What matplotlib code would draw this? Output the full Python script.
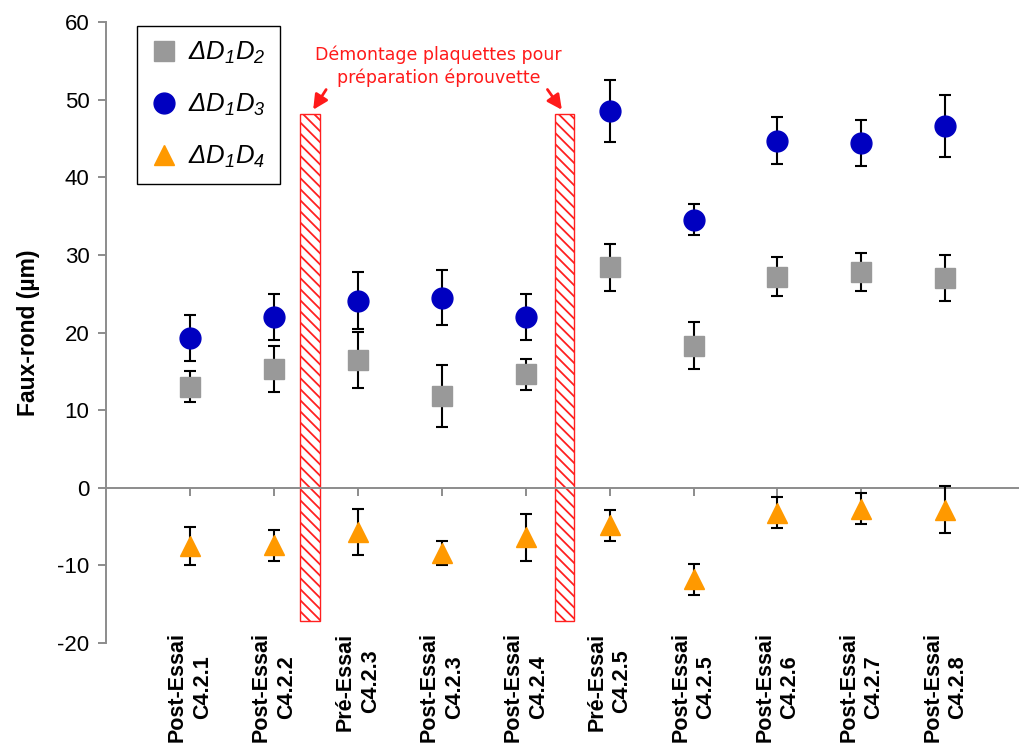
"""
Faux-rond measurements per test step, with the two plate-removal gaps
marked as hatched bars.
"""
import numpy as np
import matplotlib

matplotlib.use("Agg")
import matplotlib.pyplot as plt
from matplotlib.transforms import blended_transform_factory

plt.rcParams["font.family"] = ["Liberation Sans", "DejaVu Sans"]
# only the legend uses mathtext, and it is fully italic there
plt.rcParams["mathtext.fontset"] = "custom"
plt.rcParams["mathtext.it"] = "Liberation Sans:italic"
plt.rcParams["mathtext.rm"] = "Liberation Sans:italic"
plt.rcParams["axes.unicode_minus"] = False
plt.rcParams["hatch.linewidth"] = 1.3

# --- data -----------------------------------------------------------------
categories = [
    "Post-Essai\nC4.2.1", "Post-Essai\nC4.2.2", "Pré-Essai\nC4.2.3",
    "Post-Essai\nC4.2.3", "Post-Essai\nC4.2.4", "Pré-Essai\nC4.2.5",
    "Post-Essai\nC4.2.5", "Post-Essai\nC4.2.6", "Post-Essai\nC4.2.7",
    "Post-Essai\nC4.2.8",
]
d12 = [13.0, 15.3, 16.5, 11.8, 14.6, 28.4, 18.3, 27.2, 27.8, 27.0]
d12_err = [2.0, 3.0, 3.6, 4.0, 2.0, 3.0, 3.0, 2.5, 2.5, 3.0]
d13 = [19.3, 22.0, 24.1, 24.5, 22.0, 48.5, 34.5, 44.7, 44.4, 46.6]
d13_err = [3.0, 3.0, 3.7, 3.5, 3.0, 4.0, 2.0, 3.0, 3.0, 4.0]
d14 = [-7.5, -7.4, -5.7, -8.4, -6.4, -4.8, -11.8, -3.2, -2.7, -2.8]
d14_err = [2.5, 2.0, 3.0, 1.5, 3.0, 2.0, 2.0, 2.0, 2.0, 3.0]

series_labels = [r"$\Delta D_1D_2$", r"$\Delta D_1D_3$", r"$\Delta D_1D_4$"]

# plate removal gaps (x centre, top, bottom)
gap_x = [2.43, 5.46]
gap_top = 48.2
gap_bottom = -17.2

annot_text = "Démontage plaquettes pour\npréparation éprouvette"

# --- figure ---------------------------------------------------------------
x = np.arange(1, len(categories) + 1)

fig = plt.figure(figsize=(10.2, 7.46), dpi=100)
ax = fig.add_axes([0.104, 0.138, 0.896, 0.8325])
ax.set_xlim(0, 10.89)
ax.set_ylim(-20, 60)

axis_grey = "#8c8c8c"
for s in ["top", "right"]:
    ax.spines[s].set_visible(False)
ax.spines["left"].set_color(axis_grey)
ax.spines["left"].set_linewidth(1.4)
ax.spines["bottom"].set_position(("data", 0))
ax.spines["bottom"].set_color(axis_grey)
ax.spines["bottom"].set_linewidth(1.4)

ax.set_yticks(np.arange(-20, 61, 10))
ax.tick_params(axis="y", direction="out", length=6, width=1.4,
               color=axis_grey, labelsize=16, pad=6)
ax.set_xticks(x)
ax.tick_params(axis="x", direction="out", length=6, width=1.4,
               color=axis_grey, labelbottom=False)

# hatched gaps
ax.bar(gap_x, gap_top - gap_bottom, bottom=gap_bottom, width=0.23,
       facecolor="white", edgecolor="#ff2020", hatch="\\\\\\", linewidth=1.0,
       zorder=2)

err_kw = dict(fmt="none", ecolor="black", elinewidth=1.5, capsize=4.5,
              capthick=1.5, zorder=3)
ax.errorbar(x, d12, yerr=d12_err, **err_kw)
ax.errorbar(x, d13, yerr=d13_err, **err_kw)
ax.errorbar(x, d14, yerr=d14_err, **err_kw)

ax.plot(x, d12, "s", color="#999999", markersize=14, linestyle="none",
        label=series_labels[0], zorder=4)
ax.plot(x, d13, "o", color="#0000c0", markersize=15, linestyle="none",
        label=series_labels[1], zorder=4)
ax.plot(x, d14, "^", color="#ff9900", markersize=15, linestyle="none",
        label=series_labels[2], zorder=4)

# category labels at the bottom of the plot
trans = blended_transform_factory(ax.transData, ax.transAxes)
for xi, lab in zip(x, categories):
    ax.text(xi, 0.017, lab, transform=trans, rotation=90, ha="center",
            va="top", multialignment="center", fontsize=15.5,
            fontweight="bold", linespacing=1.25)

ax.set_ylabel("Faux-rond (µm)", fontsize=16.5, fontweight="bold", labelpad=12)

# annotation
ax.text(3.96, 54.3, annot_text, ha="center", va="center", color="#ff1a1a",
        fontsize=12.5, family="DejaVu Sans", linespacing=1.3)
arrow_kw = dict(arrowstyle="-|>", color="#ff1a1a", lw=2.0, mutation_scale=22)
ax.annotate("", xy=(gap_x[0] + 0.02, gap_top + 0.2), xytext=(2.64, 51.6),
            arrowprops=arrow_kw)
ax.annotate("", xy=(gap_x[1] - 0.01, gap_top + 0.2), xytext=(5.24, 51.6),
            arrowprops=arrow_kw)

leg = ax.legend(loc="upper left", bbox_to_anchor=(137 / 1020, 1 - 26 / 746),
                bbox_transform=fig.transFigure, fontsize=18.5, frameon=True,
                fancybox=False, edgecolor="black", framealpha=1,
                labelspacing=1.0, borderpad=0.55, handletextpad=0.45,
                handlelength=1.0, borderaxespad=0)
leg.get_frame().set_linewidth(1.0)

fig.savefig("out.png", dpi=100)
